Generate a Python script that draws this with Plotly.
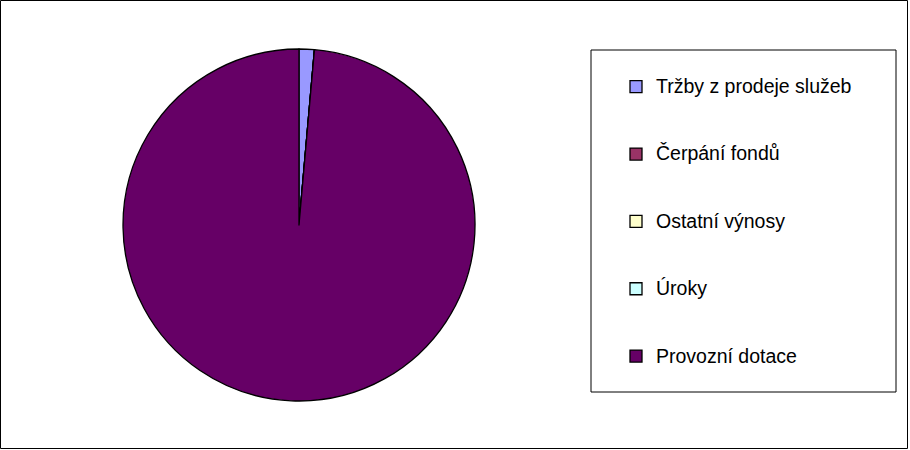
import plotly.graph_objects as go

categories = ['Tržby z prodeje služeb', 'Čerpání fondů', 'Ostatní výnosy', 'Úroky', 'Provozní dotace']
values = [1.4, 0, 0, 0, 98.6]
colors = ['#9999FF', '#993366', '#FFFFCC', '#CCFFFF', '#660066']

W, H = 910, 450

# blank lines around each label spread the legend items out like the original,
# the inner span keeps the visible text a bit larger than the line spacing
legend_labels = ['<br><span style="font-size:19.5px">' + c + '</span><br>' for c in categories]

fig = go.Figure()
fig.add_trace(go.Pie(
    labels=legend_labels,
    values=values,
    marker=dict(colors=colors, line=dict(color='black', width=1.3)),
    sort=False,
    direction='clockwise',
    rotation=0,
    textinfo='none',
    hoverinfo='percent',
    domain=dict(x=[123 / W, 475 / W], y=[(H - 401) / H, (H - 49) / H]),
))

fig.update_layout(
    width=W, height=H,
    margin=dict(l=0, r=0, t=0, b=0),
    paper_bgcolor='white',
    font=dict(family='Arial, Liberation Sans, sans-serif', size=16, color='black'),
    legend=dict(x=616 / W, xanchor='left', y=(H - 48) / H, yanchor='top',
                bgcolor='rgba(0,0,0,0)', borderwidth=0,
                font=dict(size=16.5), tracegroupgap=0),
    shapes=[
        dict(type='rect', xref='paper', yref='paper',
             x0=0.5 / W, x1=1 - 2.5 / W, y0=1.5 / H, y1=1 - 0.5 / H,
             line=dict(color='black', width=1)),
        dict(type='rect', xref='paper', yref='paper',
             x0=591 / W, x1=896 / W, y0=(H - 392) / H, y1=(H - 50) / H,
             line=dict(color='black', width=1)),
    ],
)

fig.write_html('out.html', config={'displayModeBar': False},
               post_script="document.body.style.margin='0';")
